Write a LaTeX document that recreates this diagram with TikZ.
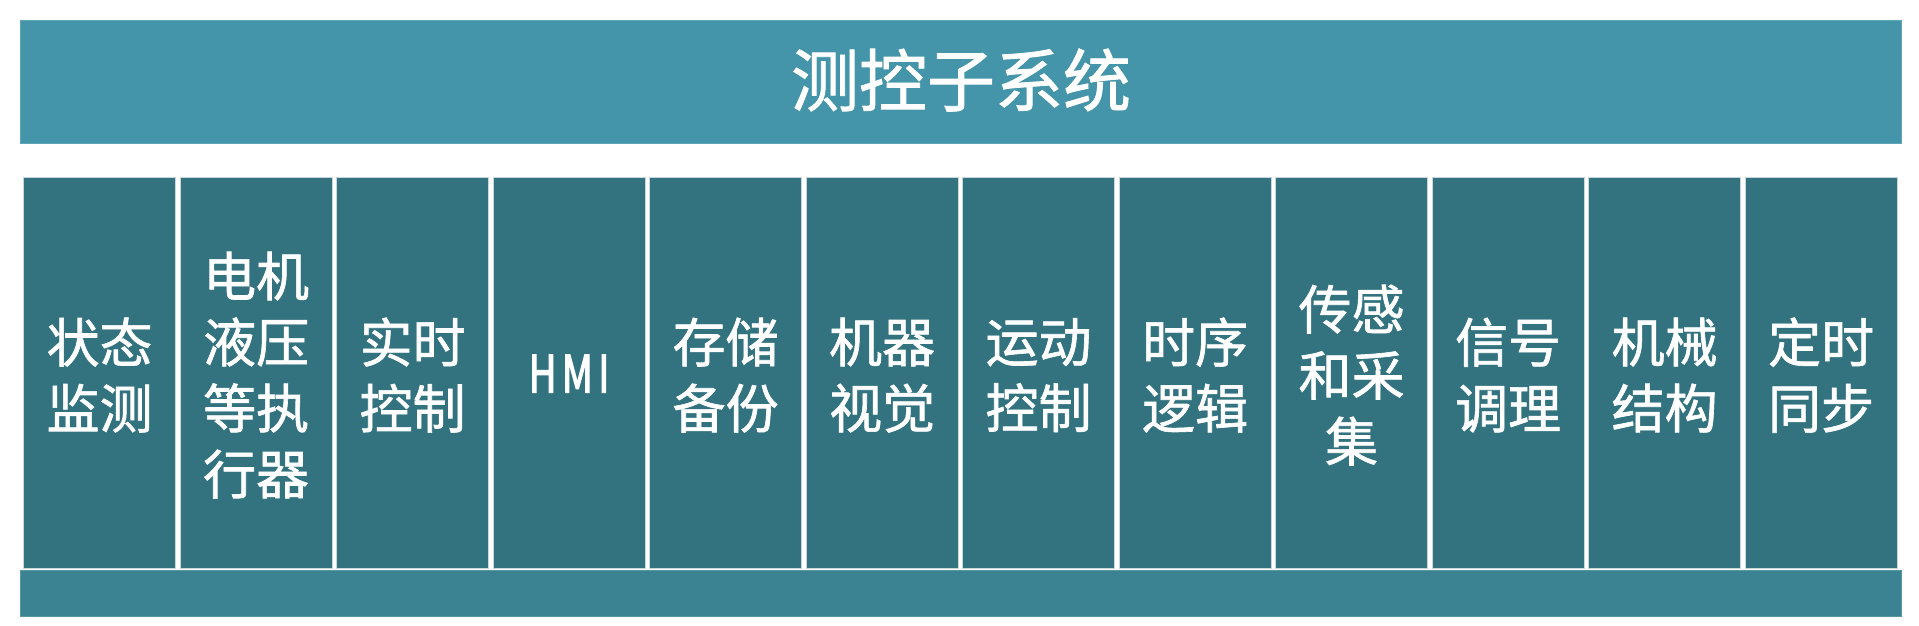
\documentclass[tikz,border=0pt]{standalone}
\usepackage{fontspec}
\setmainfont{Noto Sans CJK SC}
\newfontfamily\cjk[FakeBold=1.2]{Noto Sans CJK SC}
\usetikzlibrary{positioning}
\definecolor{headblue}{HTML}{4495AA}
\definecolor{coldark}{HTML}{337380}
\definecolor{footblue}{HTML}{3B8393}
\definecolor{colline}{HTML}{C9D6DC}
\tikzset{
    headbar/.style={fill=headblue, draw=headblue!85!white, line width=1pt, inner sep=0pt, anchor=north west},
    footbar/.style={fill=footblue, draw=footblue!85!white, line width=1pt, inner sep=0pt, anchor=north west},
    colbox/.style={fill=coldark, draw=colline, line width=1.2pt, inner sep=0pt, anchor=north west,
        minimum width=152pt, minimum height=391pt},
    coltext/.style={text=white, align=center, inner sep=0pt, font=\cjk\fontsize{53}{66}\selectfont}
}
\newcommand{\hmi}{\raisebox{3pt}{\scalebox{0.72}[0.96]{\addfontfeature{LetterSpace=14,FakeBold=3}HMI}}}

\begin{document}
\begin{tikzpicture}[x=1pt,y=-1pt]
\useasboundingbox (0,0) rectangle (1919,625);
\fill[white] (0,0) rectangle (1919,625);
\node[headbar, minimum width=1881pt, minimum height=123pt] (head) at (20,20) {};
\node[text=white, inner sep=0pt, font=\cjk\fontsize{68}{68}\selectfont] (title) at ([yshift=2pt]head.center) {测控子系统};
\foreach \lbl[count=\i] in {
    状态\\监测, 电机\\液压\\等执\\行器, 实时\\控制, \hmi,
    存储\\备份, 机器\\视觉, 运动\\控制, 时序\\逻辑,
    传感\\和采\\集, 信号\\调理, 机械\\结构, 定时\\同步
}{
    \node[colbox] (col\i) at ({23+(\i-1)*156.5},177) {};
    \node[coltext] (txt\i) at ([yshift=-2pt]col\i.center) {\lbl};
}
\node[footbar, minimum width=1881pt, minimum height=46pt] (foot) at (20,570) {};
\end{tikzpicture}
\end{document}
